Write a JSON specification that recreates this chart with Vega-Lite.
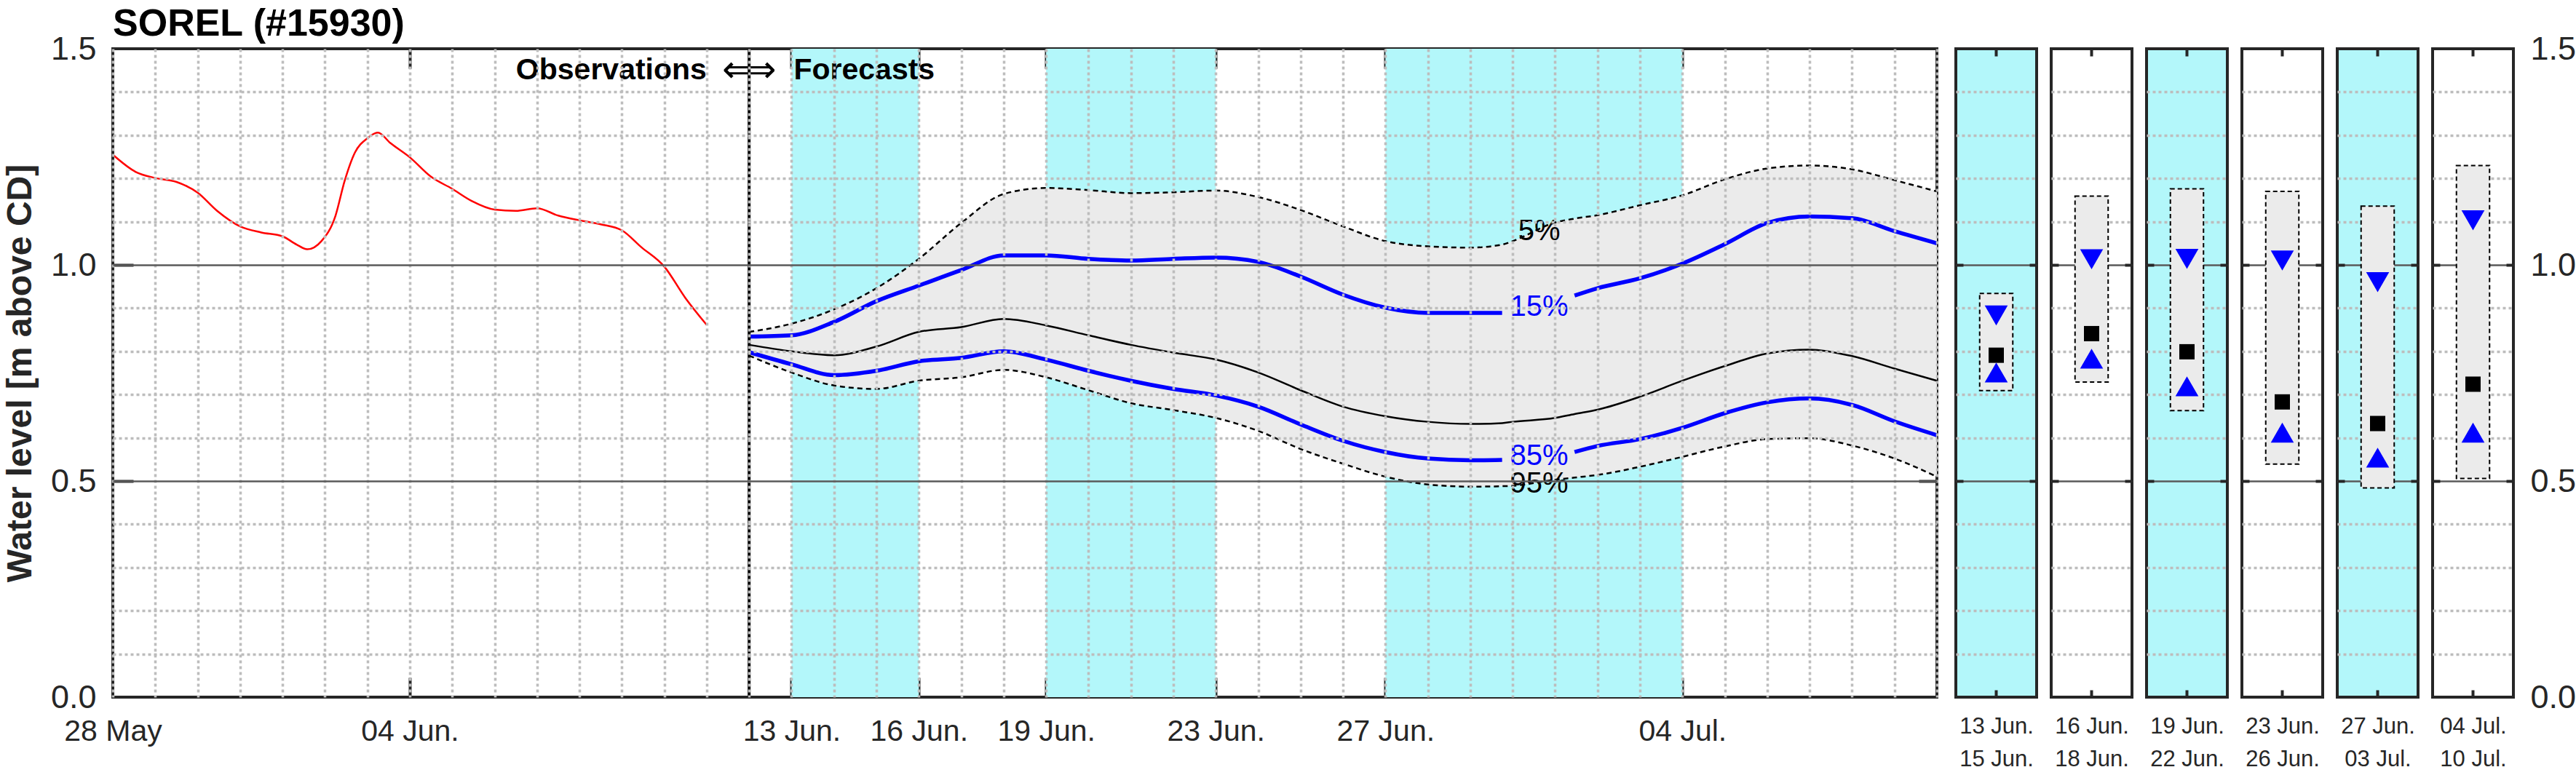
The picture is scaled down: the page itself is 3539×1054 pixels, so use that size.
{
"$schema": "https://vega.github.io/schema/vega-lite/v6.json",
"padding": {"left": 2, "top": 7, "right": 0, "bottom": 0},
"background": "white",
"bounds": "flush",
"spacing": 26,
"title": {"text": "SOREL (#15930)", "anchor": "start", "frame": "group", "fontSize": 52, "fontWeight": "bold", "color": "black", "baseline": "bottom", "offset": 11, "dy": 80},
"config": {
  "font": "Liberation Sans",
  "view": {"stroke": "#262626", "strokeWidth": 4},
  "axis": {"labelFont": "Liberation Sans", "titleFont": "Liberation Sans", "labelColor": "#262626", "titleColor": "#262626", "tickColor": "#262626", "tickWidth": 4, "domain": false, "minExtent": 0},
  "title": {"font": "Liberation Sans"}
},
"datasets": {
  "obs": [
    {"date": "2023-05-28T00:00:00Z", "level": 1.255},
    {"date": "2023-05-28T13:00:00Z", "level": 1.215},
    {"date": "2023-05-29T00:00:00Z", "level": 1.201},
    {"date": "2023-05-29T12:00:00Z", "level": 1.192},
    {"date": "2023-05-30T00:00:00Z", "level": 1.167},
    {"date": "2023-05-30T11:00:00Z", "level": 1.125},
    {"date": "2023-05-31T00:00:00Z", "level": 1.089},
    {"date": "2023-05-31T12:00:00Z", "level": 1.075},
    {"date": "2023-06-01T00:00:00Z", "level": 1.066},
    {"date": "2023-06-01T08:00:00Z", "level": 1.047},
    {"date": "2023-06-01T14:00:00Z", "level": 1.036},
    {"date": "2023-06-01T22:00:00Z", "level": 1.055},
    {"date": "2023-06-02T06:00:00Z", "level": 1.114},
    {"date": "2023-06-02T11:00:00Z", "level": 1.192},
    {"date": "2023-06-02T17:00:00Z", "level": 1.260},
    {"date": "2023-06-03T00:00:00Z", "level": 1.293},
    {"date": "2023-06-03T06:00:00Z", "level": 1.306},
    {"date": "2023-06-03T13:00:00Z", "level": 1.282},
    {"date": "2023-06-04T00:00:00Z", "level": 1.249},
    {"date": "2023-06-04T12:00:00Z", "level": 1.204},
    {"date": "2023-06-05T00:00:00Z", "level": 1.176},
    {"date": "2023-06-05T11:00:00Z", "level": 1.148},
    {"date": "2023-06-06T00:00:00Z", "level": 1.128},
    {"date": "2023-06-06T12:00:00Z", "level": 1.125},
    {"date": "2023-06-07T00:00:00Z", "level": 1.131},
    {"date": "2023-06-07T12:00:00Z", "level": 1.114},
    {"date": "2023-06-08T00:00:00Z", "level": 1.103},
    {"date": "2023-06-08T12:00:00Z", "level": 1.094},
    {"date": "2023-06-09T00:00:00Z", "level": 1.080},
    {"date": "2023-06-09T11:00:00Z", "level": 1.041},
    {"date": "2023-06-10T00:00:00Z", "level": 0.996},
    {"date": "2023-06-10T12:00:00Z", "level": 0.923},
    {"date": "2023-06-11T00:00:00Z", "level": 0.861}
  ],
  "forecast": [
    {"date": "2023-06-12T00:00:00Z", "seg": 1, "p5": 0.845, "p15": 0.834, "p50": 0.815, "p85": 0.798, "p95": 0.790},
    {"date": "2023-06-13T00:00:00Z", "seg": 1, "p5": 0.864, "p15": 0.837, "p50": 0.800, "p85": 0.770, "p95": 0.751},
    {"date": "2023-06-14T00:00:00Z", "seg": 1, "p5": 0.897, "p15": 0.868, "p50": 0.791, "p85": 0.745, "p95": 0.721},
    {"date": "2023-06-15T00:00:00Z", "seg": 1, "p5": 0.946, "p15": 0.916, "p50": 0.811, "p85": 0.755, "p95": 0.713},
    {"date": "2023-06-16T00:00:00Z", "seg": 1, "p5": 1.014, "p15": 0.952, "p50": 0.845, "p85": 0.777, "p95": 0.732},
    {"date": "2023-06-17T00:00:00Z", "seg": 1, "p5": 1.097, "p15": 0.988, "p50": 0.856, "p85": 0.785, "p95": 0.740},
    {"date": "2023-06-18T00:00:00Z", "seg": 1, "p5": 1.164, "p15": 1.022, "p50": 0.875, "p85": 0.800, "p95": 0.757},
    {"date": "2023-06-19T00:00:00Z", "seg": 1, "p5": 1.178, "p15": 1.022, "p50": 0.860, "p85": 0.781, "p95": 0.740},
    {"date": "2023-06-20T00:00:00Z", "seg": 1, "p5": 1.173, "p15": 1.014, "p50": 0.837, "p85": 0.755, "p95": 0.710},
    {"date": "2023-06-21T00:00:00Z", "seg": 1, "p5": 1.166, "p15": 1.010, "p50": 0.815, "p85": 0.732, "p95": 0.680},
    {"date": "2023-06-22T00:00:00Z", "seg": 1, "p5": 1.168, "p15": 1.014, "p50": 0.797, "p85": 0.713, "p95": 0.664},
    {"date": "2023-06-23T00:00:00Z", "seg": 1, "p5": 1.172, "p15": 1.017, "p50": 0.781, "p85": 0.698, "p95": 0.646},
    {"date": "2023-06-24T00:00:00Z", "seg": 1, "p5": 1.157, "p15": 1.007, "p50": 0.751, "p85": 0.672, "p95": 0.616},
    {"date": "2023-06-25T00:00:00Z", "seg": 1, "p5": 1.127, "p15": 0.973, "p50": 0.710, "p85": 0.631, "p95": 0.574},
    {"date": "2023-06-26T00:00:00Z", "seg": 1, "p5": 1.089, "p15": 0.931, "p50": 0.672, "p85": 0.593, "p95": 0.540},
    {"date": "2023-06-27T00:00:00Z", "seg": 1, "p5": 1.055, "p15": 0.901, "p50": 0.650, "p85": 0.567, "p95": 0.510},
    {"date": "2023-06-28T00:00:00Z", "seg": 1, "p5": 1.043, "p15": 0.889, "p50": 0.637, "p85": 0.552, "p95": 0.492},
    {"date": "2023-06-29T00:00:00Z", "seg": 1, "p5": 1.040, "p15": 0.889, "p50": 0.632, "p85": 0.548, "p95": 0.487},
    {"date": "2023-06-29T18:00:00Z", "seg": 1, "p5": 1.047, "p15": 0.889, "p50": 0.634, "p85": 0.549, "p95": 0.488},
    {"date": "2023-06-30T00:00:00Z", "seg": 2, "p5": 1.055, "p15": null, "p50": 0.637, "p85": null, "p95": 0.489},
    {"date": "2023-07-01T00:00:00Z", "seg": 2, "p5": 1.098, "p15": null, "p50": 0.646, "p85": null, "p95": 0.503},
    {"date": "2023-07-01T11:00:00Z", "seg": 2, "p5": 1.107, "p15": 0.929, "p50": 0.655, "p85": 0.567, "p95": 0.508},
    {"date": "2023-07-02T00:00:00Z", "seg": 2, "p5": 1.115, "p15": 0.946, "p50": 0.665, "p85": 0.581, "p95": 0.514},
    {"date": "2023-07-03T00:00:00Z", "seg": 2, "p5": 1.138, "p15": 0.969, "p50": 0.695, "p85": 0.597, "p95": 0.533},
    {"date": "2023-07-04T00:00:00Z", "seg": 2, "p5": 1.161, "p15": 1.003, "p50": 0.732, "p85": 0.623, "p95": 0.556},
    {"date": "2023-07-05T00:00:00Z", "seg": 2, "p5": 1.198, "p15": 1.048, "p50": 0.766, "p85": 0.657, "p95": 0.580},
    {"date": "2023-07-06T00:00:00Z", "seg": 2, "p5": 1.223, "p15": 1.097, "p50": 0.795, "p85": 0.682, "p95": 0.597},
    {"date": "2023-07-07T00:00:00Z", "seg": 2, "p5": 1.230, "p15": 1.112, "p50": 0.804, "p85": 0.691, "p95": 0.599},
    {"date": "2023-07-08T00:00:00Z", "seg": 2, "p5": 1.221, "p15": 1.108, "p50": 0.789, "p85": 0.676, "p95": 0.582},
    {"date": "2023-07-09T00:00:00Z", "seg": 2, "p5": 1.196, "p15": 1.078, "p50": 0.760, "p85": 0.638, "p95": 0.552},
    {"date": "2023-07-10T00:00:00Z", "seg": 2, "p5": 1.170, "p15": 1.050, "p50": 0.732, "p85": 0.606, "p95": 0.510}
  ],
  "periods": [
    {"period": 1, "start": "2023-06-13T00:00:00Z", "end": "2023-06-16T00:00:00Z", "shaded": true, "p5": 0.934, "p15": 0.883, "p50": 0.791, "p85": 0.751, "p95": 0.709},
    {"period": 2, "start": "2023-06-16T00:00:00Z", "end": "2023-06-19T00:00:00Z", "shaded": false, "p5": 1.159, "p15": 1.013, "p50": 0.841, "p85": 0.783, "p95": 0.729},
    {"period": 3, "start": "2023-06-19T00:00:00Z", "end": "2023-06-23T00:00:00Z", "shaded": true, "p5": 1.176, "p15": 1.014, "p50": 0.799, "p85": 0.719, "p95": 0.663},
    {"period": 4, "start": "2023-06-23T00:00:00Z", "end": "2023-06-27T00:00:00Z", "shaded": false, "p5": 1.170, "p15": 1.010, "p50": 0.683, "p85": 0.612, "p95": 0.539},
    {"period": 5, "start": "2023-06-27T00:00:00Z", "end": "2023-07-04T00:00:00Z", "shaded": true, "p5": 1.136, "p15": 0.960, "p50": 0.633, "p85": 0.554, "p95": 0.484},
    {"period": 6, "start": "2023-07-04T00:00:00Z", "end": "2023-07-11T00:00:00Z", "shaded": false, "p5": 1.230, "p15": 1.103, "p50": 0.724, "p85": 0.612, "p95": 0.506}
  ],
  "labels": [
    {"date": "2023-06-30T15:00:00Z", "level": 1.078, "label": "5%", "group": "outer"},
    {"date": "2023-06-30T15:00:00Z", "level": 0.903, "label": "15%", "group": "inner"},
    {"date": "2023-06-30T15:00:00Z", "level": 0.557, "label": "85%", "group": "inner"},
    {"date": "2023-06-30T15:00:00Z", "level": 0.493, "label": "95%", "group": "outer"}
  ],
  "notes": [
    {"date": "2023-06-11T00:00:00Z", "level": 1.45, "text": "Observations"},
    {"date": "2023-06-12T00:00:00Z", "level": 1.45, "text": "⟺"},
    {"date": "2023-06-13T00:00:00Z", "level": 1.45, "text": "Forecasts"}
  ]
},
"hconcat": [
  {
    "width": 2506, "height": 891,
    "layer": [
      {"data": {"name": "periods"}, "transform": [{"filter": "datum.shaded"}],
       "mark": {"type": "rect", "color": "#b3f7fa"},
       "encoding": {
         "x": {"field": "start", "type": "temporal",
               "scale": {"type": "utc", "domain": [{"year": 2023, "month": 5, "date": 28, "utc": true}, {"year": 2023, "month": 7, "date": 10, "utc": true}], "nice": false},
               "axis": {"orient": "bottom", "values": [{"year": 2023, "month": 5, "date": 28, "utc": true}, {"year": 2023, "month": 6, "date": 4, "utc": true}, {"year": 2023, "month": 6, "date": 13, "utc": true}, {"year": 2023, "month": 6, "date": 16, "utc": true}, {"year": 2023, "month": 6, "date": 19, "utc": true}, {"year": 2023, "month": 6, "date": 23, "utc": true}, {"year": 2023, "month": 6, "date": 27, "utc": true}, {"year": 2023, "month": 7, "date": 4, "utc": true}],
                        "labelExpr": "utcFormat(datum.value, '%b') == 'May' ? utcFormat(datum.value, '%d %b') : utcFormat(datum.value, '%d %b.')",
                        "ticks": false, "grid": false, "domain": false, "labelFontSize": 41, "labelPadding": 27, "labelFlush": false, "labelOverlap": false, "title": null}},
         "x2": {"field": "end"}}},
      {"data": {"name": "forecast"},
       "mark": {"type": "area", "color": "#ebebeb", "interpolate": "monotone"},
       "encoding": {
         "x": {"field": "date", "type": "temporal",
               "scale": {"type": "utc", "domain": [{"year": 2023, "month": 5, "date": 28, "utc": true}, {"year": 2023, "month": 7, "date": 10, "utc": true}], "nice": false},
               "axis": {"orient": "bottom", "tickCount": {"interval": "day", "step": 1}, "grid": true, "gridColor": "#bdbdbd", "gridDash": [4, 4], "gridWidth": 3.5, "labels": false, "ticks": false, "domain": false, "title": null, "zindex": 1}},
         "y": {"field": "p95", "type": "quantitative", "scale": {"domain": [0, 1.5], "nice": false, "zero": false},
               "axis": {"orient": "left", "values": [0.1, 0.2, 0.3, 0.4, 0.5, 0.6, 0.7, 0.8, 0.9, 1, 1.1, 1.2, 1.3, 1.4], "grid": true,
                        "gridColor": {"condition": {"test": "datum.value == 0.5 || datum.value == 1", "value": "#5a5a5a"}, "value": "#bdbdbd"},
                        "gridDash": {"condition": {"test": "datum.value == 0.5 || datum.value == 1", "value": []}, "value": [4, 4]},
                        "gridWidth": {"condition": {"test": "datum.value == 0.5 || datum.value == 1", "value": 2.5}, "value": 3.5},
                        "labels": false, "ticks": false, "domain": false, "title": null, "zindex": 1}},
         "y2": {"field": "p5"}}},
      {"data": {"name": "forecast"},
       "mark": {"type": "line", "color": "black", "strokeWidth": 2.5, "strokeDash": [7, 5], "interpolate": "monotone"},
       "encoding": {
         "x": {"field": "date", "type": "temporal",
               "axis": {"orient": "top", "values": [{"year": 2023, "month": 6, "date": 4, "utc": true}, {"year": 2023, "month": 6, "date": 13, "utc": true}, {"year": 2023, "month": 6, "date": 16, "utc": true}, {"year": 2023, "month": 6, "date": 19, "utc": true}, {"year": 2023, "month": 6, "date": 23, "utc": true}, {"year": 2023, "month": 6, "date": 27, "utc": true}, {"year": 2023, "month": 7, "date": 4, "utc": true}],
                        "ticks": true, "tickSize": -27, "labels": false, "grid": false, "domain": false, "title": null}},
         "y": {"field": "p5", "type": "quantitative",
               "axis": {"orient": "left", "values": [0, 0.5, 1, 1.5], "format": ".1f", "labelFontSize": 45, "labelPadding": 23, "ticks": false, "grid": false, "domain": false,
                        "title": "Water level [m above CD]", "titleFontSize": 48, "titleFontWeight": "bold", "titlePadding": 17}}}},
      {"data": {"name": "forecast"},
       "mark": {"type": "line", "color": "black", "strokeWidth": 2.5, "strokeDash": [7, 5], "interpolate": "monotone"},
       "encoding": {
         "x": {"field": "date", "type": "temporal",
               "axis": {"orient": "bottom", "values": [{"year": 2023, "month": 6, "date": 4, "utc": true}, {"year": 2023, "month": 6, "date": 13, "utc": true}, {"year": 2023, "month": 6, "date": 16, "utc": true}, {"year": 2023, "month": 6, "date": 19, "utc": true}, {"year": 2023, "month": 6, "date": 23, "utc": true}, {"year": 2023, "month": 6, "date": 27, "utc": true}, {"year": 2023, "month": 7, "date": 4, "utc": true}],
                        "ticks": true, "tickSize": -27, "labels": false, "grid": false, "domain": false, "title": null}},
         "y": {"field": "p95", "type": "quantitative",
               "axis": {"orient": "left", "values": [0.5, 1], "ticks": true, "tickSize": -28, "labels": false, "grid": false, "domain": false, "title": null}}}},
      {"data": {"name": "forecast"},
       "mark": {"type": "line", "color": "#0000ff", "strokeWidth": 5.5, "interpolate": "monotone"},
       "encoding": {
         "x": {"field": "date", "type": "temporal", "axis": null},
         "y": {"field": "p15", "type": "quantitative",
               "axis": {"orient": "right", "values": [0.5, 1], "ticks": true, "tickSize": -25, "labels": false, "grid": false, "domain": false, "title": null}},
         "detail": {"field": "seg", "type": "nominal"}}},
      {"data": {"name": "forecast"},
       "mark": {"type": "line", "color": "#0000ff", "strokeWidth": 5.5, "interpolate": "monotone"},
       "encoding": {
         "x": {"field": "date", "type": "temporal", "axis": null},
         "y": {"field": "p85", "type": "quantitative", "axis": null},
         "detail": {"field": "seg", "type": "nominal"}}},
      {"data": {"name": "forecast"},
       "mark": {"type": "line", "color": "black", "strokeWidth": 2.5, "interpolate": "monotone"},
       "encoding": {
         "x": {"field": "date", "type": "temporal", "axis": null},
         "y": {"field": "p50", "type": "quantitative", "axis": null}}},
      {"data": {"name": "obs"},
       "mark": {"type": "line", "color": "#ff0000", "strokeWidth": 2.5, "interpolate": "monotone"},
       "encoding": {
         "x": {"field": "date", "type": "temporal", "axis": null},
         "y": {"field": "level", "type": "quantitative", "axis": null}}},
      {"data": {"name": "notes"}, "transform": [{"filter": "datum.text == '⟺'"}],
       "mark": {"type": "rule", "color": "black", "strokeWidth": 4},
       "encoding": {"x": {"field": "date", "type": "temporal", "axis": null}}},
      {"data": {"name": "labels"}, "transform": [{"filter": "datum.group == 'outer'"}],
       "mark": {"type": "text", "fontSize": 40, "color": "black", "align": "center", "baseline": "middle"},
       "encoding": {
         "x": {"field": "date", "type": "temporal", "axis": null},
         "y": {"field": "level", "type": "quantitative", "axis": null},
         "text": {"field": "label"}}},
      {"data": {"name": "labels"}, "transform": [{"filter": "datum.group == 'inner'"}],
       "mark": {"type": "text", "fontSize": 40, "color": "#0000ff", "align": "center", "baseline": "middle"},
       "encoding": {
         "x": {"field": "date", "type": "temporal", "axis": null},
         "y": {"field": "level", "type": "quantitative", "axis": null},
         "text": {"field": "label"}}},
      {"data": {"name": "notes"}, "transform": [{"filter": "datum.text == 'Observations'"}],
       "mark": {"type": "text", "fontSize": 41, "fontWeight": "bold", "color": "black", "align": "right", "baseline": "middle"},
       "encoding": {
         "x": {"field": "date", "type": "temporal", "axis": null},
         "y": {"field": "level", "type": "quantitative", "axis": null},
         "text": {"field": "text"}}},
      {"data": {"name": "notes"}, "transform": [{"filter": "datum.text == '⟺'"}],
       "mark": {"type": "text", "fontSize": 52, "font": "DejaVu Sans", "color": "black", "align": "center", "baseline": "middle"},
       "encoding": {
         "x": {"field": "date", "type": "temporal", "axis": null},
         "y": {"field": "level", "type": "quantitative", "axis": null},
         "text": {"field": "text"}}},
      {"data": {"name": "notes"}, "transform": [{"filter": "datum.text == 'Forecasts'"}],
       "mark": {"type": "text", "fontSize": 41, "fontWeight": "bold", "color": "black", "align": "left", "baseline": "middle", "dx": 3},
       "encoding": {
         "x": {"field": "date", "type": "temporal", "axis": null},
         "y": {"field": "level", "type": "quantitative", "axis": null},
         "text": {"field": "text"}}}
    ],
    "resolve": {"axis": {"x": "independent", "y": "independent"}}
  },
  {
    "bounds": "flush",
    "spacing": 20,
    "hconcat": [
      {
        "width": 111, "height": 891,
        "view": {"fill": "#b3f7fa", "stroke": "#262626", "strokeWidth": 4},
        "data": {"name": "periods"},
        "transform": [{"filter": "datum.period == 1"}],
        "layer": [
          {"mark": {"type": "bar", "width": {"band": 0.41}, "fill": "#ebebeb", "stroke": "black", "strokeWidth": 2, "strokeDash": [6, 4]},
           "encoding": {
             "x": {"field": "period", "type": "ordinal", "scale": {"paddingInner": 0, "paddingOuter": 0},
                   "axis": {"orient": "bottom", "ticks": true, "tickSize": -10, "labels": false, "domain": false, "grid": false, "title": ["13 Jun.", "15 Jun."], "titleFontSize": 31, "titleFontWeight": "normal", "titleLineHeight": 45, "titlePadding": 23}},
             "y": {"field": "p95", "type": "quantitative", "scale": {"domain": [0, 1.5], "nice": false, "zero": false},
                   "axis": {"orient": "left", "values": [0.1, 0.2, 0.3, 0.4, 0.5, 0.6, 0.7, 0.8, 0.9, 1, 1.1, 1.2, 1.3, 1.4], "grid": true,
                            "gridColor": {"condition": {"test": "datum.value == 0.5 || datum.value == 1", "value": "#5a5a5a"}, "value": "#bdbdbd"},
                            "gridDash": {"condition": {"test": "datum.value == 0.5 || datum.value == 1", "value": []}, "value": [4, 4]},
                            "gridWidth": {"condition": {"test": "datum.value == 0.5 || datum.value == 1", "value": 2.5}, "value": 3.5},
                            "labels": false, "ticks": false, "domain": false, "title": null}},
             "y2": {"field": "p5"}}},
          {"mark": {"type": "point", "shape": "triangle-down", "filled": true, "color": "#0000ff", "opacity": 1, "size": 1000},
           "encoding": {
             "x": {"field": "period", "type": "ordinal", "axis": {"orient": "top", "ticks": true, "tickSize": -10, "labels": false, "domain": false, "grid": false, "title": null}},
             "y": {"field": "p15", "type": "quantitative", "axis": {"orient": "left", "values": [0.5, 1], "ticks": true, "tickSize": -10, "labels": false, "grid": false, "domain": false, "title": null}}}},
          {"mark": {"type": "point", "shape": "square", "filled": true, "color": "black", "opacity": 1, "size": 441},
           "encoding": {
             "x": {"field": "period", "type": "ordinal", "axis": null},
             "y": {"field": "p50", "type": "quantitative", "axis": {"orient": "right", "values": [0.5, 1], "ticks": true, "tickSize": -10, "labels": false, "grid": false, "domain": false, "title": null}}}},
          {"mark": {"type": "point", "shape": "triangle-up", "filled": true, "color": "#0000ff", "opacity": 1, "size": 1000},
           "encoding": {
             "x": {"field": "period", "type": "ordinal", "axis": null},
             "y": {"field": "p85", "type": "quantitative", "axis": null}}}
        ],
        "resolve": {"axis": {"x": "independent", "y": "independent"}}
      },
      {
        "width": 111, "height": 891,
        "view": {"fill": "white", "stroke": "#262626", "strokeWidth": 4},
        "data": {"name": "periods"},
        "transform": [{"filter": "datum.period == 2"}],
        "layer": [
          {"mark": {"type": "bar", "width": {"band": 0.41}, "fill": "#ebebeb", "stroke": "black", "strokeWidth": 2, "strokeDash": [6, 4]},
           "encoding": {
             "x": {"field": "period", "type": "ordinal", "scale": {"paddingInner": 0, "paddingOuter": 0},
                   "axis": {"orient": "bottom", "ticks": true, "tickSize": -10, "labels": false, "domain": false, "grid": false, "title": ["16 Jun.", "18 Jun."], "titleFontSize": 31, "titleFontWeight": "normal", "titleLineHeight": 45, "titlePadding": 23}},
             "y": {"field": "p95", "type": "quantitative", "scale": {"domain": [0, 1.5], "nice": false, "zero": false},
                   "axis": {"orient": "left", "values": [0.1, 0.2, 0.3, 0.4, 0.5, 0.6, 0.7, 0.8, 0.9, 1, 1.1, 1.2, 1.3, 1.4], "grid": true,
                            "gridColor": {"condition": {"test": "datum.value == 0.5 || datum.value == 1", "value": "#5a5a5a"}, "value": "#bdbdbd"},
                            "gridDash": {"condition": {"test": "datum.value == 0.5 || datum.value == 1", "value": []}, "value": [4, 4]},
                            "gridWidth": {"condition": {"test": "datum.value == 0.5 || datum.value == 1", "value": 2.5}, "value": 3.5},
                            "labels": false, "ticks": false, "domain": false, "title": null}},
             "y2": {"field": "p5"}}},
          {"mark": {"type": "point", "shape": "triangle-down", "filled": true, "color": "#0000ff", "opacity": 1, "size": 1000},
           "encoding": {
             "x": {"field": "period", "type": "ordinal", "axis": {"orient": "top", "ticks": true, "tickSize": -10, "labels": false, "domain": false, "grid": false, "title": null}},
             "y": {"field": "p15", "type": "quantitative", "axis": {"orient": "left", "values": [0.5, 1], "ticks": true, "tickSize": -10, "labels": false, "grid": false, "domain": false, "title": null}}}},
          {"mark": {"type": "point", "shape": "square", "filled": true, "color": "black", "opacity": 1, "size": 441},
           "encoding": {
             "x": {"field": "period", "type": "ordinal", "axis": null},
             "y": {"field": "p50", "type": "quantitative", "axis": {"orient": "right", "values": [0.5, 1], "ticks": true, "tickSize": -10, "labels": false, "grid": false, "domain": false, "title": null}}}},
          {"mark": {"type": "point", "shape": "triangle-up", "filled": true, "color": "#0000ff", "opacity": 1, "size": 1000},
           "encoding": {
             "x": {"field": "period", "type": "ordinal", "axis": null},
             "y": {"field": "p85", "type": "quantitative", "axis": null}}}
        ],
        "resolve": {"axis": {"x": "independent", "y": "independent"}}
      },
      {
        "width": 111, "height": 891,
        "view": {"fill": "#b3f7fa", "stroke": "#262626", "strokeWidth": 4},
        "data": {"name": "periods"},
        "transform": [{"filter": "datum.period == 3"}],
        "layer": [
          {"mark": {"type": "bar", "width": {"band": 0.41}, "fill": "#ebebeb", "stroke": "black", "strokeWidth": 2, "strokeDash": [6, 4]},
           "encoding": {
             "x": {"field": "period", "type": "ordinal", "scale": {"paddingInner": 0, "paddingOuter": 0},
                   "axis": {"orient": "bottom", "ticks": true, "tickSize": -10, "labels": false, "domain": false, "grid": false, "title": ["19 Jun.", "22 Jun."], "titleFontSize": 31, "titleFontWeight": "normal", "titleLineHeight": 45, "titlePadding": 23}},
             "y": {"field": "p95", "type": "quantitative", "scale": {"domain": [0, 1.5], "nice": false, "zero": false},
                   "axis": {"orient": "left", "values": [0.1, 0.2, 0.3, 0.4, 0.5, 0.6, 0.7, 0.8, 0.9, 1, 1.1, 1.2, 1.3, 1.4], "grid": true,
                            "gridColor": {"condition": {"test": "datum.value == 0.5 || datum.value == 1", "value": "#5a5a5a"}, "value": "#bdbdbd"},
                            "gridDash": {"condition": {"test": "datum.value == 0.5 || datum.value == 1", "value": []}, "value": [4, 4]},
                            "gridWidth": {"condition": {"test": "datum.value == 0.5 || datum.value == 1", "value": 2.5}, "value": 3.5},
                            "labels": false, "ticks": false, "domain": false, "title": null}},
             "y2": {"field": "p5"}}},
          {"mark": {"type": "point", "shape": "triangle-down", "filled": true, "color": "#0000ff", "opacity": 1, "size": 1000},
           "encoding": {
             "x": {"field": "period", "type": "ordinal", "axis": {"orient": "top", "ticks": true, "tickSize": -10, "labels": false, "domain": false, "grid": false, "title": null}},
             "y": {"field": "p15", "type": "quantitative", "axis": {"orient": "left", "values": [0.5, 1], "ticks": true, "tickSize": -10, "labels": false, "grid": false, "domain": false, "title": null}}}},
          {"mark": {"type": "point", "shape": "square", "filled": true, "color": "black", "opacity": 1, "size": 441},
           "encoding": {
             "x": {"field": "period", "type": "ordinal", "axis": null},
             "y": {"field": "p50", "type": "quantitative", "axis": {"orient": "right", "values": [0.5, 1], "ticks": true, "tickSize": -10, "labels": false, "grid": false, "domain": false, "title": null}}}},
          {"mark": {"type": "point", "shape": "triangle-up", "filled": true, "color": "#0000ff", "opacity": 1, "size": 1000},
           "encoding": {
             "x": {"field": "period", "type": "ordinal", "axis": null},
             "y": {"field": "p85", "type": "quantitative", "axis": null}}}
        ],
        "resolve": {"axis": {"x": "independent", "y": "independent"}}
      },
      {
        "width": 111, "height": 891,
        "view": {"fill": "white", "stroke": "#262626", "strokeWidth": 4},
        "data": {"name": "periods"},
        "transform": [{"filter": "datum.period == 4"}],
        "layer": [
          {"mark": {"type": "bar", "width": {"band": 0.41}, "fill": "#ebebeb", "stroke": "black", "strokeWidth": 2, "strokeDash": [6, 4]},
           "encoding": {
             "x": {"field": "period", "type": "ordinal", "scale": {"paddingInner": 0, "paddingOuter": 0},
                   "axis": {"orient": "bottom", "ticks": true, "tickSize": -10, "labels": false, "domain": false, "grid": false, "title": ["23 Jun.", "26 Jun."], "titleFontSize": 31, "titleFontWeight": "normal", "titleLineHeight": 45, "titlePadding": 23}},
             "y": {"field": "p95", "type": "quantitative", "scale": {"domain": [0, 1.5], "nice": false, "zero": false},
                   "axis": {"orient": "left", "values": [0.1, 0.2, 0.3, 0.4, 0.5, 0.6, 0.7, 0.8, 0.9, 1, 1.1, 1.2, 1.3, 1.4], "grid": true,
                            "gridColor": {"condition": {"test": "datum.value == 0.5 || datum.value == 1", "value": "#5a5a5a"}, "value": "#bdbdbd"},
                            "gridDash": {"condition": {"test": "datum.value == 0.5 || datum.value == 1", "value": []}, "value": [4, 4]},
                            "gridWidth": {"condition": {"test": "datum.value == 0.5 || datum.value == 1", "value": 2.5}, "value": 3.5},
                            "labels": false, "ticks": false, "domain": false, "title": null}},
             "y2": {"field": "p5"}}},
          {"mark": {"type": "point", "shape": "triangle-down", "filled": true, "color": "#0000ff", "opacity": 1, "size": 1000},
           "encoding": {
             "x": {"field": "period", "type": "ordinal", "axis": {"orient": "top", "ticks": true, "tickSize": -10, "labels": false, "domain": false, "grid": false, "title": null}},
             "y": {"field": "p15", "type": "quantitative", "axis": {"orient": "left", "values": [0.5, 1], "ticks": true, "tickSize": -10, "labels": false, "grid": false, "domain": false, "title": null}}}},
          {"mark": {"type": "point", "shape": "square", "filled": true, "color": "black", "opacity": 1, "size": 441},
           "encoding": {
             "x": {"field": "period", "type": "ordinal", "axis": null},
             "y": {"field": "p50", "type": "quantitative", "axis": {"orient": "right", "values": [0.5, 1], "ticks": true, "tickSize": -10, "labels": false, "grid": false, "domain": false, "title": null}}}},
          {"mark": {"type": "point", "shape": "triangle-up", "filled": true, "color": "#0000ff", "opacity": 1, "size": 1000},
           "encoding": {
             "x": {"field": "period", "type": "ordinal", "axis": null},
             "y": {"field": "p85", "type": "quantitative", "axis": null}}}
        ],
        "resolve": {"axis": {"x": "independent", "y": "independent"}}
      },
      {
        "width": 111, "height": 891,
        "view": {"fill": "#b3f7fa", "stroke": "#262626", "strokeWidth": 4},
        "data": {"name": "periods"},
        "transform": [{"filter": "datum.period == 5"}],
        "layer": [
          {"mark": {"type": "bar", "width": {"band": 0.41}, "fill": "#ebebeb", "stroke": "black", "strokeWidth": 2, "strokeDash": [6, 4]},
           "encoding": {
             "x": {"field": "period", "type": "ordinal", "scale": {"paddingInner": 0, "paddingOuter": 0},
                   "axis": {"orient": "bottom", "ticks": true, "tickSize": -10, "labels": false, "domain": false, "grid": false, "title": ["27 Jun.", "03 Jul."], "titleFontSize": 31, "titleFontWeight": "normal", "titleLineHeight": 45, "titlePadding": 23}},
             "y": {"field": "p95", "type": "quantitative", "scale": {"domain": [0, 1.5], "nice": false, "zero": false},
                   "axis": {"orient": "left", "values": [0.1, 0.2, 0.3, 0.4, 0.5, 0.6, 0.7, 0.8, 0.9, 1, 1.1, 1.2, 1.3, 1.4], "grid": true,
                            "gridColor": {"condition": {"test": "datum.value == 0.5 || datum.value == 1", "value": "#5a5a5a"}, "value": "#bdbdbd"},
                            "gridDash": {"condition": {"test": "datum.value == 0.5 || datum.value == 1", "value": []}, "value": [4, 4]},
                            "gridWidth": {"condition": {"test": "datum.value == 0.5 || datum.value == 1", "value": 2.5}, "value": 3.5},
                            "labels": false, "ticks": false, "domain": false, "title": null}},
             "y2": {"field": "p5"}}},
          {"mark": {"type": "point", "shape": "triangle-down", "filled": true, "color": "#0000ff", "opacity": 1, "size": 1000},
           "encoding": {
             "x": {"field": "period", "type": "ordinal", "axis": {"orient": "top", "ticks": true, "tickSize": -10, "labels": false, "domain": false, "grid": false, "title": null}},
             "y": {"field": "p15", "type": "quantitative", "axis": {"orient": "left", "values": [0.5, 1], "ticks": true, "tickSize": -10, "labels": false, "grid": false, "domain": false, "title": null}}}},
          {"mark": {"type": "point", "shape": "square", "filled": true, "color": "black", "opacity": 1, "size": 441},
           "encoding": {
             "x": {"field": "period", "type": "ordinal", "axis": null},
             "y": {"field": "p50", "type": "quantitative", "axis": {"orient": "right", "values": [0.5, 1], "ticks": true, "tickSize": -10, "labels": false, "grid": false, "domain": false, "title": null}}}},
          {"mark": {"type": "point", "shape": "triangle-up", "filled": true, "color": "#0000ff", "opacity": 1, "size": 1000},
           "encoding": {
             "x": {"field": "period", "type": "ordinal", "axis": null},
             "y": {"field": "p85", "type": "quantitative", "axis": null}}}
        ],
        "resolve": {"axis": {"x": "independent", "y": "independent"}}
      },
      {
        "width": 111, "height": 891,
        "view": {"fill": "white", "stroke": "#262626", "strokeWidth": 4},
        "data": {"name": "periods"},
        "transform": [{"filter": "datum.period == 6"}],
        "layer": [
          {"mark": {"type": "bar", "width": {"band": 0.41}, "fill": "#ebebeb", "stroke": "black", "strokeWidth": 2, "strokeDash": [6, 4]},
           "encoding": {
             "x": {"field": "period", "type": "ordinal", "scale": {"paddingInner": 0, "paddingOuter": 0},
                   "axis": {"orient": "bottom", "ticks": true, "tickSize": -10, "labels": false, "domain": false, "grid": false, "title": ["04 Jul.", "10 Jul."], "titleFontSize": 31, "titleFontWeight": "normal", "titleLineHeight": 45, "titlePadding": 23}},
             "y": {"field": "p95", "type": "quantitative", "scale": {"domain": [0, 1.5], "nice": false, "zero": false},
                   "axis": {"orient": "left", "values": [0.1, 0.2, 0.3, 0.4, 0.5, 0.6, 0.7, 0.8, 0.9, 1, 1.1, 1.2, 1.3, 1.4], "grid": true,
                            "gridColor": {"condition": {"test": "datum.value == 0.5 || datum.value == 1", "value": "#5a5a5a"}, "value": "#bdbdbd"},
                            "gridDash": {"condition": {"test": "datum.value == 0.5 || datum.value == 1", "value": []}, "value": [4, 4]},
                            "gridWidth": {"condition": {"test": "datum.value == 0.5 || datum.value == 1", "value": 2.5}, "value": 3.5},
                            "labels": false, "ticks": false, "domain": false, "title": null}},
             "y2": {"field": "p5"}}},
          {"mark": {"type": "point", "shape": "triangle-down", "filled": true, "color": "#0000ff", "opacity": 1, "size": 1000},
           "encoding": {
             "x": {"field": "period", "type": "ordinal", "axis": {"orient": "top", "ticks": true, "tickSize": -10, "labels": false, "domain": false, "grid": false, "title": null}},
             "y": {"field": "p15", "type": "quantitative", "axis": {"orient": "left", "values": [0.5, 1], "ticks": true, "tickSize": -10, "labels": false, "grid": false, "domain": false, "title": null}}}},
          {"mark": {"type": "point", "shape": "square", "filled": true, "color": "black", "opacity": 1, "size": 441},
           "encoding": {
             "x": {"field": "period", "type": "ordinal", "axis": null},
             "y": {"field": "p50", "type": "quantitative", "axis": {"orient": "right", "values": [0.5, 1], "ticks": true, "tickSize": -10, "labels": false, "grid": false, "domain": false, "title": null}}}},
          {"mark": {"type": "point", "shape": "triangle-up", "filled": true, "color": "#0000ff", "opacity": 1, "size": 1000},
           "encoding": {
             "x": {"field": "period", "type": "ordinal", "axis": null},
             "y": {"field": "p85", "type": "quantitative", "axis": {"orient": "right", "values": [0, 0.5, 1, 1.5], "format": ".1f", "labelFontSize": 45, "labelPadding": 23, "ticks": false, "grid": false, "domain": false, "title": null}}}}
        ],
        "resolve": {"axis": {"x": "independent", "y": "independent"}}
      }
    ]
  }
]
}
